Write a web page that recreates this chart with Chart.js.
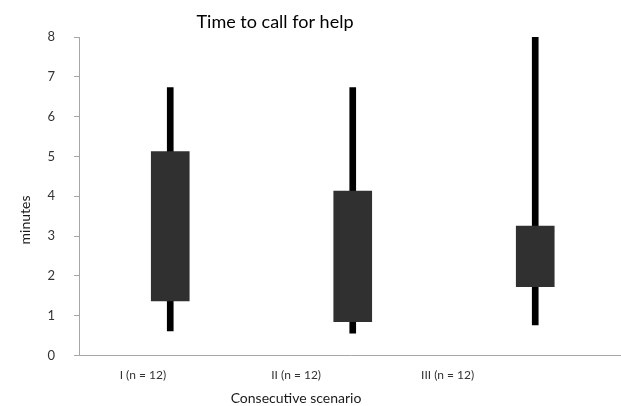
<!DOCTYPE html>
<html lang="en">
<head>
    <meta charset="UTF-8">
    <title>Time to call for help</title>
    <script src="https://cdn.jsdelivr.net/npm/chart.js"></script>
    <style>
        body { margin: 0; background: #ffffff; overflow: hidden; }
        #box { width: 621px; height: 406px; }
    </style>
</head>
<body>
    <div id="box"><canvas id="help-chart"></canvas></div>

    <script>
        // values (minutes)
        const categories = ["I (n = 12)", "II (n = 12)", "III (n = 12)"];
        const whiskerLow = [0.62, 0.56, 0.77];
        const boxLow = [1.37, 0.85, 1.73];
        const boxHigh = [5.12, 4.13, 3.25];
        const whiskerHigh = [6.73, 6.73, 8.0];
        const yTicks = [0, 1, 2, 3, 4, 5, 6, 7, 8];

        const font = "Lato, 'Open Sans', sans-serif";
        const axisGrey = "#a6a6a6";

        // where the category labels sit on the x scale (they are not centred under the boxes)
        const labelAt = [0.85, 1.69, 2.52];

        // titles are drawn by hand, because in the picture they are off centre
        const titlesPlugin = {
            id: "titles",
            afterDraw(chart) {
                const ctx = chart.ctx;
                ctx.save();
                ctx.fillStyle = "#000000";
                ctx.textAlign = "center";
                ctx.textBaseline = "middle";
                ctx.font = "18px " + font;
                ctx.fillText("Time to call for help", 275, 22);
                ctx.font = "14px " + font;
                ctx.fillStyle = "#1a1a1a";
                ctx.fillText("Consecutive scenario", 296, 398);
                ctx.translate(25, 220);
                ctx.rotate(-Math.PI / 2);
                ctx.fillText("minutes", 0, 0);
                ctx.restore();
            }
        };

        new Chart(document.getElementById("help-chart").getContext("2d"), {
            type: "bar",
            data: {
                datasets: [{
                    label: "Box",
                    data: categories.map((c, i) => ({ x: i + 1, y: [boxLow[i], boxHigh[i]] })),
                    backgroundColor: "#303030",
                    barThickness: 38,
                    grouped: false,
                    borderWidth: 0
                }, {
                    label: "Range",
                    data: categories.map((c, i) => ({ x: i + 1, y: [whiskerLow[i], whiskerHigh[i]] })),
                    backgroundColor: "#000000",
                    barThickness: 6,
                    grouped: false,
                    borderWidth: 0
                }]
            },
            options: {
                responsive: true,
                maintainAspectRatio: false,
                animation: false,
                layout: { padding: { top: 37, right: 0, left: 0, bottom: 0 } },
                plugins: {
                    legend: { display: false },
                    tooltip: { enabled: false },
                    title: { display: false }
                },
                scales: {
                    x: {
                        type: "linear",
                        offset: false,
                        min: 0.5,
                        max: 3.47,
                        afterBuildTicks: scale => { scale.ticks = labelAt.map(v => ({ value: v })); },
                        afterFit: scale => { scale.height = 50.5; },
                        grid: { display: false },
                        border: { color: axisGrey, width: 1 },
                        ticks: {
                            autoSkip: false,
                            maxRotation: 0,
                            padding: 4,
                            color: "#333333",
                            font: { family: font, size: 12 },
                            callback: (v, i) => categories[i]
                        }
                    },
                    y: {
                        min: 0,
                        max: 8,
                        afterBuildTicks: scale => { scale.ticks = yTicks.map(v => ({ value: v })); },
                        afterFit: scale => { scale.width = 79; },
                        grid: { drawOnChartArea: false, tickLength: 5, color: axisGrey },
                        border: { color: axisGrey, width: 1 },
                        ticks: {
                            padding: 19,
                            color: "#333333",
                            font: { family: font, size: 13 }
                        }
                    }
                }
            },
            plugins: [titlesPlugin]
        });
    </script>
</body>
</html>
